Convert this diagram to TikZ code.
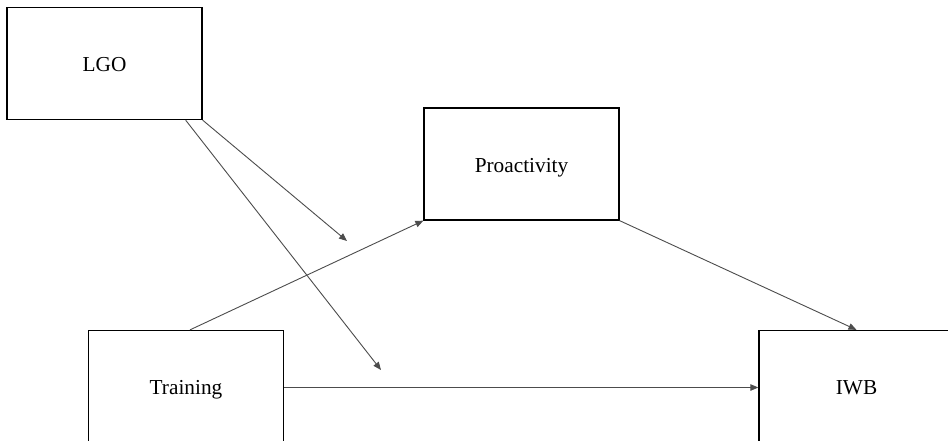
\documentclass[tikz,border=0pt]{standalone}
\usepackage{fontspec}
\setmainfont{Liberation Serif}
\usetikzlibrary{arrows.meta}
\begin{document}
\begin{tikzpicture}[x=1pt,y=-1pt,
  box/.style={draw=black,line width=1.3pt,rectangle,inner sep=0pt,
    minimum width=195pt,minimum height=112pt,text height=16pt,text depth=0pt,
    font=\fontsize{21.3}{25}\selectfont},
  conn/.style={draw=black!70,line width=0.9pt},
  arr/.style={conn,-{Triangle[length=8pt,width=6.5pt]}}]
\useasboundingbox (0,0) rectangle (948,440);
\fill[white] (0,0) rectangle (948,440);
\node[box] (lgo) at (104.5,63.5) {LGO};
\node[box] (pro) at (521.5,164) {Proactivity};
\node[box] (tra) at (186,386.5) {Training};
\node[box] (iwb) at (856.5,386.5) {IWB};
\coordinate (m1) at (347,241);
\coordinate (m2) at (381,370);
\draw[arr] (lgo.south east) -- (m1);
\draw[arr] ([xshift=-17pt]lgo.south east) -- (m2);
\draw[arr] ([xshift=4pt]tra.north) -- (pro.south west);
\draw[arr] (pro.south east) -- (iwb.north);
\draw[arr] ([yshift=-1pt]tra.east) -- ([yshift=-1pt]iwb.west);
\end{tikzpicture}
\end{document}
